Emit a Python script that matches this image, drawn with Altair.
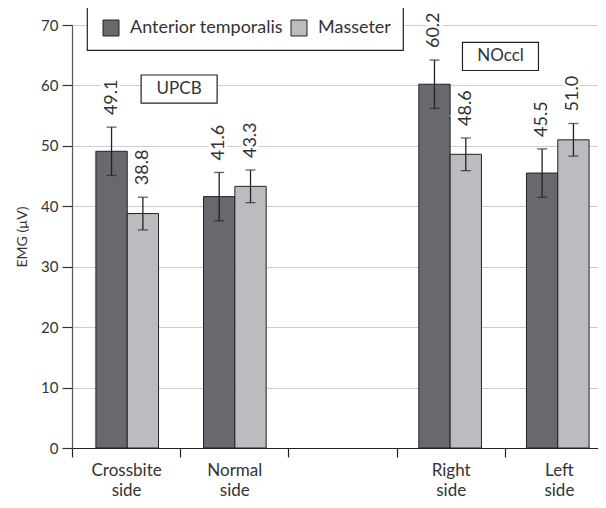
import altair as alt
import pandas as pd

# ---- data ----
slots = ["Crossbite side", "Normal side", " ", "Right side", "Left side"]
categories = ["Crossbite side", "Normal side", "Right side", "Left side"]
series = ["Anterior temporalis", "Masseter"]
anterior = [49.1, 41.6, 60.2, 45.5]
anterior_err = [4.0, 4.0, 4.0, 4.0]
masseter = [38.8, 43.3, 48.6, 51.0]
masseter_err = [2.7, 2.7, 2.7, 2.7]
note_labels = ["UPCB", "NOccl"]
note_slot = [0.99, 3.96]   # position in category-slot units
note_value = [59.4, 64.8]
colors = ["#68696e", "#bbbcc0"]

FONT = "Lato"
TXT = "#333333"

rows = []
for i, c in enumerate(categories):
    rows.append(dict(cat=c, series=series[0], value=anterior[i], lo=anterior[i] - anterior_err[i], hi=anterior[i] + anterior_err[i]))
    rows.append(dict(cat=c, series=series[1], value=masseter[i], lo=masseter[i] - masseter_err[i], hi=masseter[i] + masseter_err[i]))
df = pd.DataFrame(rows)
df["label"] = df["value"].map(lambda v: f"{v:.1f}")
notes = pd.DataFrame(dict(label=note_labels, slot=note_slot, value=note_value))

RMAX = 541
xscale = alt.Scale(domain=slots, rangeMin=0, rangeMax=RMAX, paddingInner=0.418, paddingOuter=0.222)
yscale = alt.Scale(domain=[0, 70])
xoff = alt.XOffset("series:N", scale=alt.Scale(domain=series, paddingInner=0), sort=series)
x_plain = alt.X("cat:N", scale=xscale, axis=None)

# slot axis: ticks at slot boundaries, labels at slot centres
n = len(slots)
tick_vals = [i * 0.5 for i in range(2 * n + 1)]
slot_js = "[" + ",".join("'" + s + "'" for s in slots) + "]"
xaxis = alt.Axis(values=tick_vals, title=None, grid=False,
                 labelExpr=f"datum.value % 1 > 0.25 ? split({slot_js}[floor(datum.value)], ' ') : ''",
                 labelAngle=0, labelFontSize=17, labelFont=FONT, labelColor=TXT, labelLineHeight=20,
                 labelPadding=5, labelFlush=False, labelOverlap=False, labelBound=False,
                 tickSize=9, tickWidth=1.2, domainColor="#222", domainWidth=1.2,
                 tickColor={"condition": {"test": "datum.value % 1 > 0.25", "value": "transparent"},
                            "value": "#222"})
qscale = alt.Scale(domain=[0, n], rangeMin=0, rangeMax=RMAX, nice=False, zero=False)
nx_axis = alt.X("slot:Q", scale=qscale, axis=xaxis)
nx_plain = alt.X("slot:Q", scale=qscale, axis=None)

yaxis = alt.Axis(values=list(range(0, 71, 10)), tickSize=10, tickColor="#333", tickWidth=1.2,
                 domainColor="#555", domainWidth=1.2, grid=True, gridColor="#cccccc",
                 labelFontSize=15, labelFont=FONT, labelColor=TXT, labelPadding=4,
                 titleFont=FONT, titleFontSize=14, titleFontWeight="normal",
                 titleColor=TXT, titlePadding=11)
YT = "EMG (µV)"


def yq(field):
    return alt.Y(f"{field}:Q", scale=yscale, title=YT, axis=yaxis)


base = alt.Chart(df)

bars = base.mark_bar(stroke="#222222", strokeWidth=1).encode(
    x=x_plain, xOffset=xoff, y=yq("value"),
    color=alt.Color("series:N", scale=alt.Scale(domain=series, range=colors),
                    legend=alt.Legend(orient="none", legendX=15, legendY=-18, direction="horizontal",
                                      title=None, fillColor="white", strokeColor="#222", padding=12,
                                      symbolType="square", symbolSize=256, symbolStrokeColor="#222",
                                      symbolStrokeWidth=1, symbolOpacity=1, symbolOffset=3,
                                      labelFontSize=18, labelFont=FONT,
                                      labelColor=TXT, columnPadding=4, labelOffset=10)),
)

err_rule = base.mark_rule(color="#222", strokeWidth=1.3).encode(
    x=x_plain, xOffset=xoff, y=yq("lo"), y2="hi:Q")
cap_lo = base.mark_tick(color="#222", thickness=1.3, size=10, orient="horizontal").encode(
    x=x_plain, xOffset=xoff, y=yq("lo"))
cap_hi = base.mark_tick(color="#222", thickness=1.3, size=10, orient="horizontal").encode(
    x=x_plain, xOffset=xoff, y=yq("hi"))

halo = base.mark_text(angle=270, align="left", baseline="middle", dx=12, font=FONT, fontSize=18,
                      stroke="white", strokeWidth=6, fill="white").encode(
    x=x_plain, xOffset=xoff, y=yq("hi"), text="label:N")
vals = base.mark_text(angle=270, align="left", baseline="middle", dx=12, font=FONT, fontSize=18,
                      color=TXT).encode(
    x=x_plain, xOffset=xoff, y=yq("hi"), text="label:N")

ny = yq("value")
box = alt.Chart(notes).mark_point(shape="M-1,-0.37L1,-0.37L1,0.37L-1,0.37Z", size=5776, filled=True,
                                  fill="white", stroke="#222", strokeWidth=1.2, opacity=1).encode(x=nx_axis, y=ny)
ntext = alt.Chart(notes).mark_text(font=FONT, fontSize=17, color=TXT, baseline="middle", align="center").encode(
    x=nx_plain, y=ny, text="label:N")

chart = alt.layer(bars, err_rule, cap_lo, cap_hi, halo, vals, box, ntext).resolve_scale(
    x="independent").properties(
    width=526, height=423,
    autosize=alt.AutoSizeParams(type="none"),
    padding={"left": 64, "top": 17, "right": 0, "bottom": 52},
).configure_view(stroke=None).configure_legend(strokeWidth=1.2)

chart.save("out.html", embed_options={"renderer": "svg", "actions": False})
